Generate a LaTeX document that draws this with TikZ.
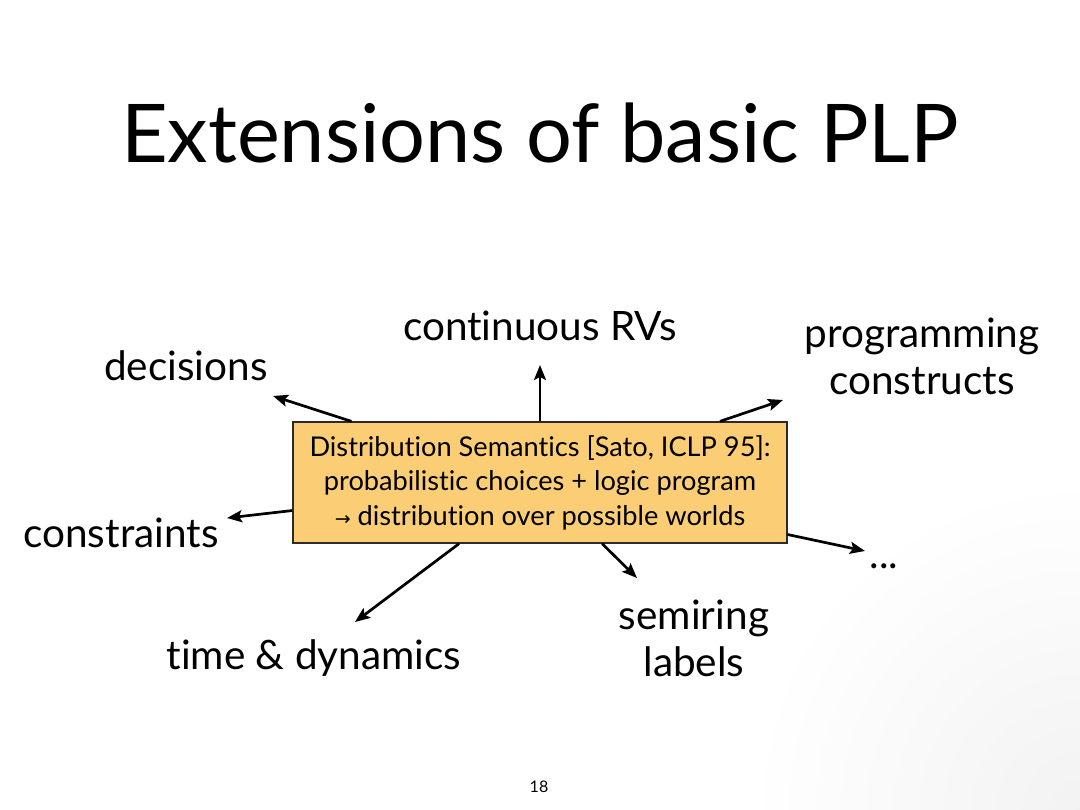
\documentclass[tikz,border=0pt]{standalone}
\usepackage{fontspec}
\setmainfont{Lato}[Ligatures=NoCommon]
\newfontfamily\arrowfont{DejaVu Sans}
\usetikzlibrary{arrows.meta}
\definecolor{boxfill}{HTML}{FBCD74}
\definecolor{boxline}{HTML}{2B2B2B}
\begin{document}
\begin{tikzpicture}[x=1pt, y=-1pt]
        \tikzstyle{label}=[anchor=base, align=center, inner sep=0pt, font=\fontsize{40.5}{47}\selectfont]
        \tikzstyle{link}=[line width=2.7pt, -{Stealth[length=15pt, width=12pt, inset=3pt]}]
        \tikzstyle{core}=[draw=boxline, line width=1.3pt, fill=boxfill, minimum width=494pt, minimum height=121pt, inner sep=0pt, align=center, font=\fontsize{27.2}{34.5}\selectfont]
        \useasboundingbox (0,0) rectangle (1080,810);
        \begin{scope}
            \clip (0,0) rectangle (1080,810);
            \shade[inner color=black!5, outer color=white] (1080,810) circle (330);
        \end{scope}
        \node[anchor=base, inner sep=0pt, font=\fontsize{81}{90}\selectfont] (title) at (540,163) {Extensions of basic PLP};
        \node[core] (sem) at (540,482.5) {Distribution Semantics [Sato, ICLP 95]:\\probabilistic choices + logic program\\{\arrowfont\fontsize{19}{19}\selectfont →} distribution over possible worlds};
        \node[label] (cont) at (540,341) {continuous RVs};
        \node[label] (dec) at (186,381) {decisions};
        \node[label] (prog) at (922,395) {programming\\constructs};
        \node[label] (cons) at (121,547) {constraints};
        \node[label] (time) at (314,669) {time \& dynamics};
        \node[label] (semi) at (694,676) {semiring\\labels};
        \node[label] (more) at (884,568) {...};
        \node[anchor=base, inner sep=0pt, font=\fontsize{16}{18}\selectfont] (page) at (539,792) {18};
        \coordinate (contTip) at (540,365);
        \coordinate (decTip) at (273,396);
        \coordinate (progTip) at (783,400);
        \coordinate (consTip) at (227,518);
        \coordinate (moreTip) at (865,551);
        \coordinate (timeTip) at (355,622);
        \coordinate (semiTip) at (637,578);
        \draw[link] (sem) -- (contTip);
        \draw[link] (sem) -- (decTip);
        \draw[link] (sem) -- (progTip);
        \draw[link] (sem) -- (consTip);
        \draw[link] (sem) -- (moreTip);
        \draw[link] (sem) -- (timeTip);
        \draw[link] (sem) -- (semiTip);
    \end{tikzpicture}
\end{document}
